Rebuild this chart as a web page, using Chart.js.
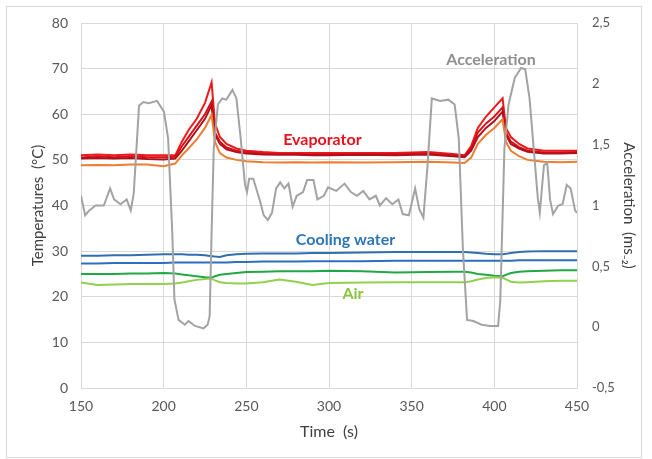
<!DOCTYPE html>
<html>
<head>
<meta charset="utf-8">
<script src="https://cdn.jsdelivr.net/npm/chart.js@4.4.1/dist/chart.umd.min.js"></script>
<style>
  body { margin: 0; background: #fff; }
  #wrap { width: 652px; height: 459px; position: relative; }
</style>
</head>
<body>
<div id="wrap"><canvas id="chart" width="652" height="459"></canvas></div>
<script>
// time grid shared by the temperature curves (s)
const tempTimes = [150, 160, 170, 180, 190, 200, 207, 211, 215, 220, 225, 229, 231, 234, 238, 244, 250, 260, 270, 280,
  290, 300, 320, 340, 360, 375, 382, 386, 390, 395, 400, 405, 407, 410, 415, 420, 430, 440, 450];

const evapRed = [51, 51.2, 51, 51.2, 51, 51, 51, 54, 56.5, 59, 62.5, 67, 58, 55, 53.5, 52.5, 52, 51.7, 51.5, 51.5,
  51.5, 51.5, 51.5, 51.5, 51.7, 51.3, 51, 53, 57, 59.5, 61.5, 63.5, 57, 55, 53.5, 52.5, 52, 52, 52];
const evapCrimson = [50.5, 50.8, 50.6, 50.8, 50.6, 50.6, 50.7, 53, 55, 57.5, 60, 62.8, 56, 54, 52.7, 52, 51.7, 51.4, 51.3, 51.3,
  51.2, 51.3, 51.3, 51.3, 51.4, 51, 50.8, 52.5, 56, 58, 59.5, 61.5, 56, 54, 52.8, 52, 51.6, 51.6, 51.7];
const evapDark = [50.3, 50.4, 50.3, 50.4, 50.2, 50.1, 50.3, 52, 54, 56.5, 59, 62, 55.5, 53.5, 52.3, 51.7, 51.4, 51.2, 51.1, 51.1,
  51, 51, 51.1, 51, 51.2, 50.8, 50.6, 52, 55, 57, 58.5, 60.6, 55.5, 53.5, 52.5, 51.8, 51.4, 51.4, 51.5];
const evapOrange = [48.8, 48.9, 48.8, 49, 49, 48.6, 49.2, 51, 52.5, 54.5, 57, 59.9, 54, 51.5, 50.5, 50, 49.7, 49.5, 49.4, 49.5,
  49.4, 49.5, 49.4, 49.5, 49.6, 49.4, 49.3, 50.5, 53.5, 55.5, 57, 58.9, 54, 52, 50.8, 50, 49.6, 49.5, 49.6];

const waterHigh = [29, 29, 29.1, 29.1, 29.2, 29.3, 29.3, 29.3, 29.2, 29.2, 29.1, 28.9, 28.8, 28.7, 29.1, 29.3, 29.4, 29.5, 29.5, 29.5,
  29.6, 29.6, 29.7, 29.8, 29.8, 29.8, 29.8, 29.7, 29.6, 29.4, 29.3, 29.3, 29.4, 29.6, 29.8, 29.9, 30, 30, 30];
const waterLow = [27.3, 27.3, 27.4, 27.4, 27.4, 27.4, 27.5, 27.5, 27.5, 27.5, 27.5, 27.5, 27.5, 27.5, 27.5, 27.6, 27.6, 27.7, 27.7, 27.7,
  27.8, 27.8, 27.8, 27.9, 27.9, 27.9, 27.9, 27.9, 27.9, 27.9, 27.9, 27.9, 27.9, 27.9, 28, 28, 28, 28, 28];

const airDark = [25, 25, 25, 25.1, 25.1, 25.2, 25.1, 24.9, 24.7, 24.5, 24.3, 24.2, 24.5, 24.8, 25, 25.2, 25.4, 25.5, 25.6, 25.6,
  25.6, 25.7, 25.6, 25.3, 25.4, 25.5, 25.5, 25.3, 25, 24.8, 24.6, 24.5, 24.8, 25.2, 25.5, 25.6, 25.7, 25.8, 25.8];
const airLight = [23.1, 22.6, 22.7, 22.8, 22.8, 22.8, 22.9, 23.1, 23.4, 23.7, 23.9, 24, 23.6, 23.2, 23, 22.9, 22.9, 23.2, 23.8, 23.3,
  22.6, 23, 23.1, 23.2, 23.2, 23.2, 23.2, 23.4, 23.8, 24.1, 24.3, 24.2, 23.8, 23.3, 23.1, 23.2, 23.4, 23.5, 23.5];

// acceleration trace (s, m/s2)
const accTimes = [150, 152.5, 155, 158.8, 163.8, 167.6, 170, 173.9, 177.6, 180.1, 181.9, 185.1, 187.7, 191, 196, 200.2, 202.7,
  205.2, 206.5, 209, 212.8, 215, 219, 224, 226.6, 227.8, 229, 230.3, 232.8, 235.4, 237.9, 241.6, 244, 246.6, 249.2,
  250.4, 251.7, 254.2, 258, 260.5, 263, 265.5, 268, 270.5, 273, 275.5, 278, 280.5, 284.3, 286.8, 290.6, 293, 296.9,
  299.4, 304.4, 309.4, 313.2, 316.9, 320.7, 324.5, 328.3, 330.8, 334.5, 338.3, 342, 344.6, 348.3, 352.1, 354.6, 357.1,
  359.6, 362.2, 367.2, 372.2, 376, 378.5, 381, 383.5, 387.3, 392.3, 397.4, 402.3, 403.6, 406.1, 408.6, 412.4, 416.2,
  418.7, 421.3, 423.8, 426.3, 427.5, 430, 432, 433.7, 435.5, 438.7, 441.3, 443.8, 446.2, 448.8, 450];
const accValues = [1.08, 0.92, 0.96, 1.0, 1.0, 1.14, 1.05, 1.01, 1.05, 0.96, 1.1, 1.82, 1.85, 1.84, 1.86, 1.77, 1.55,
  0.78, 0.23, 0.06, 0.02, 0.05, 0.01, -0.01, 0.02, 0.09, 0.78, 1.47, 1.83, 1.88, 1.87, 1.95, 1.88, 1.55, 1.17,
  1.11, 1.22, 1.22, 1.05, 0.92, 0.88, 0.94, 1.14, 1.19, 1.14, 1.18, 0.99, 1.08, 1.11, 1.21, 1.21, 1.05, 1.08,
  1.15, 1.12, 1.18, 1.11, 1.08, 1.12, 1.05, 1.08, 1.0, 1.06, 1.01, 1.05, 0.93, 0.92, 1.14, 0.97, 0.9,
  1.33, 1.88, 1.86, 1.87, 1.83, 1.55, 0.64, 0.06, 0.05, 0.02, 0.01, 0.01, 0.22, 1.47, 1.83, 2.05, 2.13,
  2.12, 1.88, 1.47, 1.06, 0.94, 1.33, 1.35, 1.05, 0.93, 1.0, 1.01, 1.17, 1.14, 0.96, 0.94];

const timeTicks = [150, 200, 250, 300, 350, 400, 450];

function pts(xs, ys) {
  return xs.map((x, i) => ({ x: x, y: ys[i] }));
}

function tempLine(values, color) {
  return {
    data: pts(tempTimes, values),
    borderColor: color,
    borderWidth: 2,
    pointRadius: 0,
    tension: 0,
    yAxisID: "y",
  };
}

const FONT = "Lato, 'Open Sans', sans-serif";

const labelsPlugin = {
  id: "labels",
  beforeDraw(chart) {
    const ctx = chart.ctx;
    ctx.save();
    ctx.fillStyle = "#fff";
    ctx.fillRect(0, 0, chart.width, chart.height);
    ctx.strokeStyle = "#d9d9d9";
    ctx.lineWidth = 1;
    ctx.strokeRect(6.5, 6.5, 635, 451);
    ctx.restore();
  },
  afterDatasetsDraw(chart) {
    const ctx = chart.ctx;
    const x = chart.scales.x;
    const y = chart.scales.y;
    const notes = [
      ["Evaporator", 296, 54.4, "#e3141f"],
      ["Cooling water", 310, 32.4, "#2e75b6"],
      ["Air", 314.5, 20.6, "#8cc540"],
      ["Acceleration", 398, 71.9, "#8f8f8f"],
    ];
    ctx.save();
    ctx.font = "bold 16px " + FONT;
    ctx.textAlign = "center";
    ctx.textBaseline = "middle";
    notes.forEach((n) => {
      ctx.fillStyle = n[3];
      ctx.fillText(n[0], x.getPixelForValue(n[1]), y.getPixelForValue(n[2]));
    });
    ctx.restore();
  },
};

new Chart(document.getElementById("chart"), {
  type: "line",
  data: {
    datasets: [
      {
        data: pts(accTimes, accValues),
        borderColor: "#a3a3a3",
        borderWidth: 2,
        pointRadius: 0,
        yAxisID: "y1",
      },
      tempLine(airLight, "#92d050"),
      tempLine(airDark, "#22a745"),
      tempLine(waterLow, "#2a6fc0"),
      tempLine(waterHigh, "#3070b0"),
      tempLine(evapOrange, "#ee7d31"),
      tempLine(evapDark, "#b0101c"),
      tempLine(evapCrimson, "#d8101a"),
      tempLine(evapRed, "#f01818"),
    ],
  },
  options: {
    responsive: false,
    animation: false,
    layout: { padding: { top: 23, left: 0, right: 0, bottom: 0 } },
    plugins: { legend: { display: false }, tooltip: { enabled: false } },
    scales: {
      x: {
        type: "linear",
        min: 150,
        max: 450,
        afterBuildTicks: (s) => { s.ticks = timeTicks.map((v) => ({ value: v })); },
        afterFit: (s) => { s.height = 71; },
        grid: { color: "#d9d9d9", drawTicks: false },
        border: { color: "#d9d9d9" },
        ticks: { padding: 10, color: "#595959", font: { family: FONT, size: 14 } },
        title: {
          display: true,
          text: "Time  (s)",
          color: "#404040",
          font: { family: FONT, size: 16 },
          padding: { top: 0, bottom: 18 },
        },
      },
      y: {
        position: "left",
        min: 0,
        max: 80,
        afterFit: (s) => { s.width = 81; },
        grid: { color: "#d9d9d9", drawTicks: false },
        border: { color: "#d9d9d9" },
        ticks: { stepSize: 10, padding: 13, color: "#595959", font: { family: FONT, size: 14 } },
        title: {
          display: true,
          text: "Temperatures  (°C)",
          color: "#404040",
          font: { family: FONT, size: 15 },
          padding: { top: 29, bottom: 0 },
        },
      },
      y1: {
        position: "right",
        min: -0.5,
        max: 2.5,
        afterFit: (s) => { s.width = 75; },
        grid: { drawOnChartArea: false, drawTicks: false },
        border: { color: "#d9d9d9" },
        ticks: {
          stepSize: 0.5,
          padding: 15,
          color: "#595959",
          font: { family: FONT, size: 13 },
          callback: (v) => String(v).replace(".", ","),
        },
        title: {
          display: true,
          text: "Acceleration  (ms₋₂)",
          color: "#404040",
          font: { family: FONT, size: 15 },
          padding: { top: 14, bottom: 0 },
        },
      },
    },
  },
  plugins: [labelsPlugin],
});
</script>
</body>
</html>
